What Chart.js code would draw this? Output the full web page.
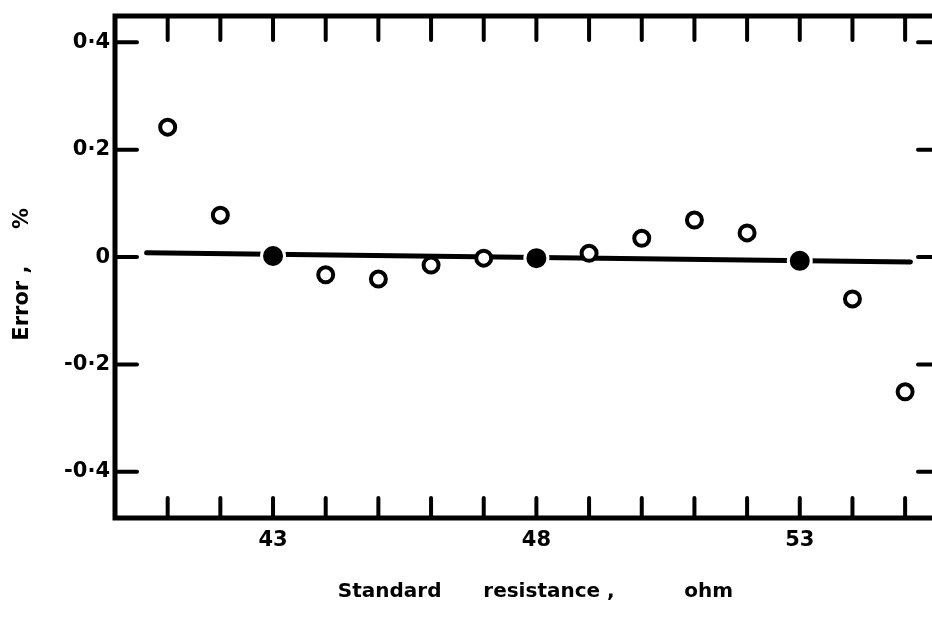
<!DOCTYPE html>
<html>
<head>
<meta charset="utf-8">
<script src="https://cdn.jsdelivr.net/npm/chart.js@4.4.1/dist/chart.umd.min.js"></script>
<style>
  html, body { margin: 0; padding: 0; background: #fff; overflow: hidden; }
  #wrap { width: 960px; height: 621px; }
</style>
</head>
<body>
<div id="wrap"><canvas id="errChart" width="960" height="621"></canvas></div>
<script>
  // Standard resistance (ohm) and error (%)
  const openResistance = [41, 42, 44, 45, 46, 47, 49, 50, 51, 52, 54, 55];
  const openError = [0.242, 0.078, -0.033, -0.041, -0.015, -0.002, 0.007, 0.035, 0.069, 0.045, -0.078, -0.251];

  const filledResistance = [43, 48, 53];
  const filledError = [0.002, -0.002, -0.007];

  // reference line drawn through the filled points
  const lineResistance = [40.6, 55.1];
  const lineError = [0.008, -0.009];

  // axis ticks
  const xTicks = [41, 42, 43, 44, 45, 46, 47, 48, 49, 50, 51, 52, 53, 54, 55];
  const xLabelled = [43, 48, 53];
  const yTicks = [-0.4, -0.2, 0, 0.2, 0.4];
  const yTickLabels = ['-0·4', '-0·2', '0', '0·2', '0·4'];

  const FONT = { family: '"DejaVu Sans", sans-serif', weight: 'bold', size: 20 };
  const TICK_FONT = { family: '"DejaVu Sans", sans-serif', weight: 'bold', size: 21 };

  function toPoints(xs, ys) {
    return xs.map((x, i) => ({ x: x, y: ys[i] }));
  }

  // ticks point into the plot, frame drawn on all four sides
  const frameAndTicks = {
    id: 'frameAndTicks',
    afterDraw(chart) {
      const { ctx, chartArea: a, scales: { x, y } } = chart;
      ctx.save();
      ctx.strokeStyle = '#000';
      ctx.lineCap = 'round';
      ctx.lineWidth = 4;
      ctx.beginPath();
      xTicks.forEach(v => {
        const px = x.getPixelForValue(v);
        ctx.moveTo(px, a.bottom); ctx.lineTo(px, a.bottom - 20);
        ctx.moveTo(px, a.top); ctx.lineTo(px, a.top + 24);
      });
      yTicks.forEach(v => {
        const py = y.getPixelForValue(v);
        ctx.moveTo(a.left, py); ctx.lineTo(a.left + 22, py);
        ctx.moveTo(a.right, py); ctx.lineTo(a.right - 24, py);
      });
      ctx.stroke();
      ctx.lineCap = 'butt';
      ctx.lineWidth = 5;
      ctx.strokeRect(a.left, a.top, a.right - a.left, a.bottom - a.top);
      ctx.restore();
    }
  };

  new Chart(document.getElementById('errChart'), {
    type: 'scatter',
    data: {
      datasets: [
        {
          label: 'open',
          data: toPoints(openResistance, openError),
          pointRadius: 7.5,
          pointBorderWidth: 4,
          pointBackgroundColor: '#fff',
          pointBorderColor: '#000',
          order: 1
        },
        {
          label: 'filled',
          data: toPoints(filledResistance, filledError),
          pointRadius: 11.5,
          pointBorderWidth: 3,
          pointBackgroundColor: '#000',
          pointBorderColor: '#fff',
          order: 2
        },
        {
          type: 'line',
          label: 'line',
          data: toPoints(lineResistance, lineError),
          borderColor: '#000',
          borderWidth: 5,
          borderCapStyle: 'round',
          pointRadius: 0,
          order: 3
        }
      ]
    },
    options: {
      responsive: false,
      animation: false,
      devicePixelRatio: 1,
      layout: { padding: { left: 0, right: 18, top: 16, bottom: 0 } },
      plugins: { legend: { display: false }, tooltip: { enabled: false } },
      scales: {
        x: {
          type: 'linear',
          min: 40,
          max: 55.7,
          grid: { display: false, drawTicks: false },
          border: { display: false },
          afterBuildTicks: s => { s.ticks = xTicks.map(v => ({ value: v })); },
          afterFit: s => { s.height = 103; s.paddingLeft = 0; s.paddingRight = 0; },
          ticks: {
            color: '#000',
            font: TICK_FONT,
            padding: 10,
            maxRotation: 0,
            autoSkip: false,
            callback: v => xLabelled.includes(v) ? String(v) : ''
          },
          title: {
            display: true,
            text: '  Standard      resistance ,          ohm',
            color: '#000',
            font: FONT,
            padding: { top: 0, bottom: 17 }
          }
        },
        y: {
          min: -0.486,
          max: 0.449,
          grid: { display: false, drawTicks: false },
          border: { display: false },
          afterBuildTicks: s => { s.ticks = yTicks.map(v => ({ value: v })); },
          afterFit: s => { s.width = 115; s.paddingTop = 0; s.paddingBottom = 0; },
          ticks: {
            color: '#000',
            font: TICK_FONT,
            padding: 5,
            autoSkip: false,
            callback: (v, i) => yTickLabels[i]
          },
          title: {
            display: true,
            text: 'Error ,     %  ',
            color: '#000',
            font: TICK_FONT,
            padding: { top: 10, bottom: 0 }
          }
        }
      }
    },
    plugins: [frameAndTicks]
  });
</script>
</body>
</html>
